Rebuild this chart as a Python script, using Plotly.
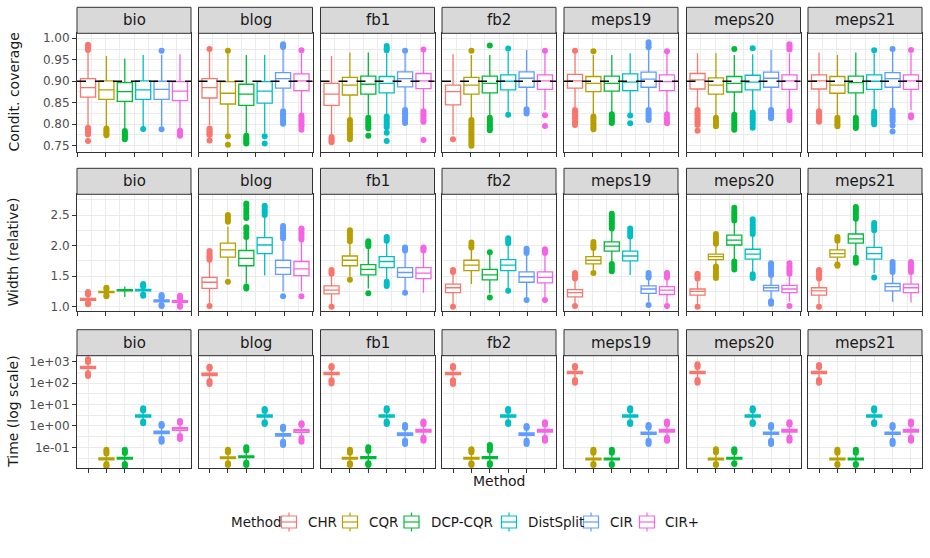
import plotly.graph_objects as go

# ---------------- data ----------------
DATASETS = ["bio", "blog", "fb1", "fb2", "meps19", "meps20", "meps21"]
METHODS = ["CHR", "CQR", "DCP-CQR", "DistSplit", "CIR", "CIR+"]
COLORS = ["#F8766D", "#B79F00", "#00BA38", "#00BFC4", "#619CFF", "#F564E3"]

# Conditional coverage (rows: datasets, cols: methods)
COV_LOW = [
    [0.798, 0.794, 0.786, 0.790, 0.795, 0.790],
    [0.798, 0.779, 0.775, 0.779, 0.837, 0.825],
    [0.775, 0.814, 0.818, 0.821, 0.837, 0.833],
    [0.775, 0.814, 0.819, 0.829, 0.841, 0.833],
    [0.837, 0.821, 0.825, 0.825, 0.835, 0.825],
    [0.837, 0.818, 0.825, 0.833, 0.837, 0.833],
    [0.833, 0.818, 0.818, 0.833, 0.837, 0.833],
]
COV_Q1 = [
    [0.863, 0.858, 0.853, 0.858, 0.858, 0.855],
    [0.861, 0.847, 0.844, 0.849, 0.884, 0.878],
    [0.844, 0.868, 0.870, 0.873, 0.887, 0.883],
    [0.845, 0.870, 0.873, 0.880, 0.886, 0.881],
    [0.884, 0.876, 0.877, 0.878, 0.886, 0.878],
    [0.882, 0.870, 0.875, 0.880, 0.886, 0.881],
    [0.882, 0.872, 0.873, 0.881, 0.886, 0.881],
]
COV_MED = [
    [0.885, 0.880, 0.876, 0.880, 0.881, 0.877],
    [0.885, 0.872, 0.870, 0.877, 0.906, 0.901],
    [0.870, 0.891, 0.893, 0.895, 0.906, 0.901],
    [0.876, 0.891, 0.895, 0.900, 0.907, 0.901],
    [0.901, 0.895, 0.895, 0.898, 0.905, 0.899],
    [0.903, 0.891, 0.895, 0.898, 0.907, 0.901],
    [0.901, 0.891, 0.897, 0.900, 0.906, 0.901],
]
COV_Q3 = [
    [0.906, 0.901, 0.897, 0.901, 0.900, 0.899],
    [0.906, 0.899, 0.893, 0.899, 0.920, 0.917],
    [0.895, 0.909, 0.912, 0.911, 0.922, 0.918],
    [0.891, 0.909, 0.912, 0.915, 0.922, 0.915],
    [0.916, 0.911, 0.912, 0.917, 0.921, 0.915],
    [0.918, 0.908, 0.911, 0.914, 0.921, 0.915],
    [0.915, 0.911, 0.912, 0.915, 0.920, 0.915],
]
COV_HIGH = [
    [0.969, 0.959, 0.953, 0.961, 0.961, 0.963],
    [0.969, 0.965, 0.961, 0.961, 0.977, 0.965],
    [0.959, 0.967, 0.967, 0.965, 0.965, 0.969],
    [0.963, 0.961, 0.961, 0.969, 0.973, 0.965],
    [0.965, 0.961, 0.961, 0.965, 0.977, 0.965],
    [0.965, 0.965, 0.961, 0.963, 0.973, 0.965],
    [0.967, 0.961, 0.967, 0.965, 0.969, 0.965],
]
COV_OUT = [
    [[0.973, 0.977, 0.981, 0.985, 0.792, 0.788, 0.784, 0.780, 0.776, 0.761],
     [0.790, 0.786, 0.782, 0.778, 0.774],
     [0.784, 0.780, 0.776, 0.772, 0.768, 0.765],
     [0.789],
     [0.971, 0.788],
     [0.785, 0.781, 0.777, 0.773]],
    [[0.975, 0.790, 0.786, 0.782, 0.778, 0.775, 0.762],
     [0.971, 0.772, 0.752],
     [0.773, 0.769, 0.765, 0.761, 0.757, 0.755],
     [0.772, 0.755],
     [0.980, 0.983, 0.986, 0.830, 0.825, 0.820, 0.815, 0.810, 0.805, 0.801],
     [0.972, 0.820, 0.815, 0.810, 0.805, 0.800, 0.795, 0.787]],
    [[0.770, 0.766, 0.762, 0.758],
     [0.810, 0.805, 0.800, 0.795, 0.790, 0.785, 0.780, 0.775, 0.770, 0.765],
     [0.815, 0.810, 0.805, 0.800, 0.795, 0.790, 0.773],
     [0.972, 0.977, 0.982, 0.818, 0.813, 0.808, 0.803, 0.798, 0.793, 0.780, 0.761],
     [0.971, 0.833, 0.828, 0.823, 0.818, 0.813, 0.808, 0.803],
     [0.974, 0.830, 0.825, 0.820, 0.815, 0.810, 0.806, 0.763]],
    [[0.765],
     [0.971, 0.810, 0.805, 0.800, 0.795, 0.790, 0.785, 0.780, 0.775, 0.770, 0.765, 0.760, 0.755, 0.750],
     [0.983, 0.815, 0.810, 0.805, 0.800, 0.795, 0.790, 0.786],
     [0.976, 0.822],
     [0.835, 0.830, 0.825],
     [0.971, 0.821, 0.796]],
    [[0.971, 0.833, 0.828, 0.823, 0.818, 0.813, 0.808, 0.803, 0.798],
     [0.970, 0.818, 0.813, 0.808, 0.803, 0.798, 0.793, 0.788],
     [0.823, 0.818, 0.813, 0.808, 0.803],
     [0.820, 0.802],
     [0.979, 0.985, 0.991, 0.833, 0.828, 0.823, 0.818, 0.813, 0.810],
     [0.970, 0.823, 0.815, 0.808, 0.802]],
    [[0.833, 0.828, 0.823, 0.818, 0.813, 0.808, 0.803, 0.798, 0.785],
     [0.815, 0.810, 0.805, 0.800, 0.795],
     [0.975, 0.822, 0.817, 0.812, 0.807, 0.802, 0.797, 0.792, 0.787],
     [0.977, 0.827, 0.822, 0.817, 0.812, 0.807, 0.800, 0.792],
     [0.833, 0.828, 0.823, 0.818, 0.814],
     [0.974, 0.978, 0.982, 0.986, 0.830, 0.825, 0.820, 0.815, 0.810]],
    [[0.830, 0.825, 0.820, 0.815, 0.810, 0.806],
     [0.815, 0.810, 0.805, 0.800, 0.795],
     [0.815, 0.810, 0.805, 0.800, 0.795, 0.791],
     [0.972, 0.829, 0.824, 0.819, 0.814, 0.809, 0.804, 0.800],
     [0.975, 0.832, 0.827, 0.822, 0.817, 0.812, 0.807, 0.797, 0.783],
     [0.973, 0.821, 0.816]],
]

# Relative width
WID_LOW = [
    [1.08, 1.20, 1.16, 1.22, 1.05, 1.04],
    [1.05, 1.49, 1.38, 1.51, 1.25, 1.25],
    [1.05, 1.49, 1.30, 1.44, 1.27, 1.23],
    [1.05, 1.37, 1.22, 1.30, 1.16, 1.16],
    [1.05, 1.60, 1.73, 1.52, 1.08, 1.05],
    [1.05, 1.68, 1.76, 1.55, 1.11, 1.08],
    [1.05, 1.71, 1.82, 1.55, 1.08, 1.07],
]
WID_Q1 = [
    [1.105, 1.23, 1.26, 1.26, 1.08, 1.07],
    [1.30, 1.81, 1.67, 1.87, 1.53, 1.51],
    [1.21, 1.67, 1.52, 1.64, 1.48, 1.46],
    [1.23, 1.59, 1.44, 1.59, 1.40, 1.39],
    [1.16, 1.70, 1.91, 1.75, 1.22, 1.20],
    [1.19, 1.77, 2.01, 1.78, 1.26, 1.23],
    [1.19, 1.81, 2.04, 1.78, 1.26, 1.23],
]
WID_MED = [
    [1.12, 1.24, 1.27, 1.27, 1.095, 1.085],
    [1.40, 1.93, 1.79, 2.01, 1.64, 1.62],
    [1.27, 1.76, 1.61, 1.74, 1.56, 1.55],
    [1.31, 1.68, 1.52, 1.68, 1.49, 1.48],
    [1.23, 1.76, 1.99, 1.83, 1.29, 1.27],
    [1.25, 1.82, 2.09, 1.86, 1.31, 1.29],
    [1.26, 1.87, 2.11, 1.87, 1.33, 1.31],
]
WID_Q3 = [
    [1.135, 1.25, 1.28, 1.285, 1.11, 1.10],
    [1.48, 2.04, 1.92, 2.13, 1.76, 1.74],
    [1.34, 1.83, 1.69, 1.82, 1.64, 1.64],
    [1.37, 1.76, 1.61, 1.77, 1.57, 1.57],
    [1.28, 1.82, 2.06, 1.91, 1.34, 1.33],
    [1.29, 1.86, 2.17, 1.94, 1.35, 1.35],
    [1.31, 1.93, 2.19, 1.97, 1.38, 1.37],
]
WID_HIGH = [
    [1.18, 1.28, 1.33, 1.31, 1.14, 1.13],
    [1.74, 2.31, 2.09, 2.47, 2.09, 2.06],
    [1.52, 2.04, 1.97, 2.06, 1.90, 1.90],
    [1.55, 1.95, 1.87, 2.01, 1.85, 1.85],
    [1.44, 1.93, 2.25, 2.12, 1.46, 1.46],
    [1.44, 2.01, 2.39, 2.17, 1.50, 1.52],
    [1.44, 2.06, 2.42, 2.23, 1.55, 1.55],
]
WID_OUT = [
    [[1.04, 1.06, 1.20, 1.22, 1.24],
     [1.17, 1.19, 1.29, 1.31],
     [],
     [1.18, 1.20, 1.33, 1.35, 1.37],
     [1.01, 1.03, 1.15, 1.17, 1.19],
     [1.00, 1.02, 1.14, 1.16, 1.18]],
    [[1.77, 1.80, 1.83, 1.87, 1.91, 1.01],
     [2.39, 2.43, 2.47, 2.50, 1.41],
     [2.14, 2.20, 2.26, 2.30, 2.45, 2.50, 2.55, 2.60, 2.65, 2.69, 1.33, 1.30],
     [2.50, 2.54, 2.58, 2.62, 2.65],
     [2.12, 2.16, 2.20, 2.24, 2.28, 2.32, 1.17],
     [2.10, 2.14, 2.18, 2.22, 2.26, 2.28, 1.17]],
    [[1.54, 1.57, 1.60, 1.00],
     [2.07, 2.12, 2.17, 2.22, 2.25, 1.44],
     [1.99, 2.02, 2.05, 2.07, 1.22],
     [2.08, 2.11, 2.14, 1.34, 1.37, 1.41],
     [1.92, 1.95, 1.97, 1.23],
     [1.92, 1.95, 1.97]],
    [[1.57, 1.60, 1.00],
     [1.97, 2.01, 2.05],
     [1.89, 1.15],
     [2.04, 2.08, 2.12, 1.26],
     [1.88, 1.91, 1.95, 1.11],
     [1.88, 1.91, 1.94, 1.11]],
    [[1.46, 1.49, 1.52, 1.55, 1.01],
     [1.96, 1.99, 2.02, 2.06, 1.55],
     [2.28, 2.32, 2.36, 2.40, 2.44, 2.48, 2.52, 1.70, 1.66, 1.62, 1.58],
     [2.15, 2.19, 2.23, 2.28],
     [1.48, 1.51, 1.55, 1.03],
     [1.48, 1.51, 1.55, 1.01]],
    [[1.46, 1.49, 1.52, 1.54, 1.00],
     [2.03, 2.07, 2.11, 2.15, 2.19, 1.66, 1.62, 1.58, 1.54, 1.50, 1.47],
     [2.41, 2.45, 2.49, 2.53, 2.57, 2.62, 1.74, 1.70, 1.66, 1.61],
     [2.19, 2.23, 2.27, 2.31, 2.35, 2.39, 2.43, 1.53, 1.50, 1.47],
     [1.52, 1.56, 1.60, 1.64, 1.68, 1.71, 1.09, 1.07, 1.05],
     [1.54, 1.58, 1.62, 1.66, 1.71, 1.01]],
    [[1.46, 1.50, 1.54, 1.58, 1.60, 1.00],
     [2.08, 2.11, 2.14, 1.69, 1.67],
     [2.44, 2.48, 2.52, 2.56, 2.60, 2.63, 1.80, 1.76, 1.72],
     [2.25, 2.29, 2.33, 2.37, 1.48],
     [1.57, 1.61, 1.65, 1.69, 1.73],
     [1.57, 1.61, 1.65, 1.69, 1.73]],
]

# Time in seconds (log scale)
TIME_LOW = [
    [330, 0.019, 0.020, 1.9, 0.30, 0.42],
    [150, 0.022, 0.024, 1.9, 0.22, 0.33],
    [165, 0.021, 0.022, 1.9, 0.24, 0.35],
    [165, 0.021, 0.022, 1.9, 0.24, 0.35],
    [180, 0.019, 0.019, 1.9, 0.26, 0.35],
    [180, 0.019, 0.021, 1.9, 0.26, 0.35],
    [180, 0.019, 0.019, 1.9, 0.26, 0.35],
]
TIME_Q1 = [
    [480, 0.026, 0.028, 2.6, 0.44, 0.62],
    [225, 0.030, 0.033, 2.6, 0.33, 0.50],
    [250, 0.028, 0.030, 2.6, 0.36, 0.52],
    [250, 0.028, 0.030, 2.6, 0.36, 0.52],
    [280, 0.026, 0.026, 2.6, 0.40, 0.52],
    [280, 0.026, 0.028, 2.6, 0.40, 0.52],
    [280, 0.026, 0.026, 2.6, 0.40, 0.52],
]
TIME_MED = [
    [540, 0.029, 0.031, 2.9, 0.50, 0.72],
    [257, 0.033, 0.037, 2.9, 0.38, 0.58],
    [285, 0.031, 0.033, 2.9, 0.41, 0.60],
    [285, 0.031, 0.033, 2.9, 0.41, 0.60],
    [318, 0.0285, 0.0285, 2.9, 0.45, 0.60],
    [318, 0.0285, 0.031, 2.9, 0.45, 0.60],
    [318, 0.0285, 0.0285, 2.9, 0.45, 0.60],
]
TIME_Q3 = [
    [610, 0.032, 0.034, 3.3, 0.57, 0.82],
    [290, 0.036, 0.040, 3.3, 0.43, 0.66],
    [320, 0.034, 0.037, 3.3, 0.47, 0.69],
    [320, 0.034, 0.037, 3.3, 0.47, 0.69],
    [350, 0.031, 0.031, 3.3, 0.51, 0.69],
    [350, 0.031, 0.034, 3.3, 0.51, 0.69],
    [350, 0.031, 0.031, 3.3, 0.51, 0.69],
]
TIME_HIGH = [
    [880, 0.045, 0.047, 4.5, 0.85, 1.20],
    [420, 0.050, 0.058, 4.4, 0.62, 0.95],
    [460, 0.047, 0.055, 4.5, 0.70, 1.05],
    [460, 0.047, 0.055, 4.4, 0.68, 1.00],
    [470, 0.045, 0.045, 4.5, 0.75, 1.05],
    [500, 0.047, 0.047, 4.5, 0.75, 1.00],
    [480, 0.045, 0.045, 4.5, 0.75, 1.05],
]
TIME_OUT = [
    [[977, 1122, 1288, 288, 251, 214],
     [0.052, 0.063, 0.076, 0.0166, 0.0145, 0.0126],
     [0.054, 0.064, 0.076, 0.0166, 0.0145, 0.0126],
     [5.2, 5.9, 6.6, 1.6, 1.32],
     [1.0, 1.1, 1.23, 0.25, 0.21, 0.184],
     [1.4, 1.55, 1.70, 0.34, 0.29, 0.245]],
    [[480, 530, 584, 125, 105, 91],
     [0.058, 0.067, 0.076, 0.018, 0.0165, 0.015],
     [0.070, 0.085, 0.10, 0.019, 0.017, 0.015],
     [5.0, 5.6, 6.2, 1.5, 1.35, 1.23],
     [0.72, 0.82, 0.92, 0.18, 0.15, 0.128],
     [1.1, 1.2, 1.32, 0.27, 0.22, 0.184]],
    [[520, 580, 630, 135, 115, 97],
     [0.056, 0.066, 0.076, 0.018, 0.0165, 0.015],
     [0.068, 0.084, 0.10, 0.018, 0.0165, 0.015],
     [5.2, 5.9, 6.6, 1.6, 1.4, 1.23],
     [0.82, 0.95, 1.10, 0.20, 0.17, 0.143],
     [1.2, 1.4, 1.59, 0.28, 0.24, 0.20]],
    [[520, 580, 630, 135, 110, 91],
     [0.058, 0.070, 0.081, 0.018, 0.0165, 0.015],
     [0.070, 0.090, 0.11, 0.128, 0.018, 0.0165, 0.015],
     [5.0, 5.6, 6.2, 1.5, 1.35, 1.23],
     [0.80, 0.90, 1.0, 0.20, 0.17, 0.143],
     [1.15, 1.3, 1.48, 0.28, 0.24, 0.20]],
    [[530, 580, 630, 140, 120, 105],
     [0.055, 0.065, 0.076, 0.0165, 0.015],
     [0.055, 0.065, 0.076, 0.0165, 0.015],
     [5.2, 5.9, 6.6, 1.5, 1.35, 1.23],
     [0.85, 0.97, 1.10, 0.20, 0.17, 0.143],
     [1.2, 1.4, 1.59, 0.28, 0.24, 0.20]],
    [[560, 650, 750, 140, 120, 105],
     [0.058, 0.070, 0.081, 0.0165, 0.015],
     [0.058, 0.070, 0.081, 0.018, 0.0166],
     [5.2, 5.9, 6.6, 1.5, 1.35, 1.23],
     [0.85, 0.97, 1.10, 0.20, 0.17, 0.143],
     [1.15, 1.3, 1.48, 0.28, 0.24, 0.20]],
    [[550, 620, 700, 140, 120, 105],
     [0.055, 0.065, 0.076, 0.0165, 0.015],
     [0.055, 0.065, 0.076, 0.0165, 0.015],
     [5.2, 5.9, 6.6, 1.5, 1.35, 1.23],
     [0.85, 0.97, 1.10, 0.20, 0.17, 0.143],
     [1.2, 1.4, 1.59, 0.28, 0.24, 0.20]],
]

ROW_TITLES = ["Condit. coverage", "Width (relative)", "Time (log scale)"]
COV_TICKS = [0.75, 0.80, 0.85, 0.90, 0.95, 1.00]
COV_TICKTEXT = ["0.75", "0.80", "0.85", "0.90", "0.95", "1.00"]
WID_TICKS = [1.0, 1.5, 2.0, 2.5]
WID_TICKTEXT = ["1.0", "1.5", "2.0", "2.5"]
TIME_TICKS = [0.1, 1, 10, 100, 1000]
TIME_TICKTEXT = ["1e-01", "1e+00", "1e+01", "1e+02", "1e+03"]
TARGET_COVERAGE = 0.90

# ---------------- layout geometry (pixels) ----------------
W, H = 930, 558
COL_LEFT = [77, 198.5, 320.5, 442, 564, 686.5, 808]
PANEL_W = 114
ROW_Y = [(33.3, 151.7), (194.3, 310.7), (355.7, 468.0)]
STRIP_H = 26
FONT = "DejaVu Sans"
GRID = "#EBEBEB"
BORDER = "#333333"
LEGEND_Y = 522
LEGEND_TITLE_X = 229
LEGEND_KEY_X = [281.5, 342.5, 404, 501.5, 583.5, 639.5]
LEGEND_TEXT_X = [306, 366.5, 428.5, 526, 607.5, 662.5]

STATS = [
    (COV_LOW, COV_Q1, COV_MED, COV_Q3, COV_HIGH, COV_OUT),
    (WID_LOW, WID_Q1, WID_MED, WID_Q3, WID_HIGH, WID_OUT),
    (TIME_LOW, TIME_Q1, TIME_MED, TIME_Q3, TIME_HIGH, TIME_OUT),
]


def px(x):
    return x / W


def py(y):
    return 1 - y / H


fig = go.Figure()
layout = {}
shapes = []
annotations = []

for r in range(3):
    low, q1, med, q3, high, out = STATS[r]
    for c in range(7):
        k = r * 7 + c + 1
        xname = "x" if k == 1 else f"x{k}"
        yname = "y" if k == 1 else f"y{k}"
        xkey = "xaxis" if k == 1 else f"xaxis{k}"
        ykey = "yaxis" if k == 1 else f"yaxis{k}"
        left = COL_LEFT[c]
        top, bot = ROW_Y[r]

        xa = dict(domain=[px(left), px(left + PANEL_W)], anchor=yname,
                  range=[0.4, 6.6], showline=True, linecolor=BORDER, linewidth=1,
                  mirror=True, ticks="outside", ticklen=4, tickcolor=BORDER,
                  tickwidth=1, showticklabels=False, zeroline=False,
                  showgrid=True, gridcolor=GRID, gridwidth=1, fixedrange=True,
                  automargin=False)
        if r < 2:
            xa["tickmode"] = "array"
            xa["tickvals"] = [0.4, 1.95, 3.5, 5.05, 6.6]
            xa["minor"] = dict(tickmode="array", tickvals=[1.175, 2.725, 4.275, 5.825],
                               showgrid=True, gridcolor=GRID, gridwidth=0.6, ticks="")
        else:
            xa["tickmode"] = "array"
            xa["tickvals"] = [1, 2, 3, 4, 5, 6]
        layout[xkey] = xa

        ya = dict(domain=[py(bot), py(top)], anchor=xname,
                  showline=True, linecolor=BORDER, linewidth=1, mirror=True,
                  zeroline=False, showgrid=True, gridcolor=GRID, gridwidth=1,
                  tickfont=dict(family=FONT, size=12, color="#4D4D4D"),
                  tickmode="array", fixedrange=True, automargin=False)
        if r == 0:
            ya.update(range=[0.736, 1.0116], tickvals=COV_TICKS, ticktext=COV_TICKTEXT,
                      minor=dict(tickmode="array",
                                 tickvals=[0.775, 0.825, 0.875, 0.925, 0.975],
                                 showgrid=True, gridcolor=GRID, gridwidth=0.6, ticks=""))
        elif r == 1:
            ya.update(range=[0.935, 2.839], tickvals=WID_TICKS, ticktext=WID_TICKTEXT,
                      minor=dict(tickmode="array", tickvals=[1.25, 1.75, 2.25, 2.75],
                                 showgrid=True, gridcolor=GRID, gridwidth=0.6, ticks=""))
        else:
            ya.update(type="log", range=[-1.967, 3.28], tickvals=TIME_TICKS,
                      ticktext=TIME_TICKTEXT,
                      minor=dict(tickmode="array",
                                 tickvals=[10 ** -1.5, 10 ** -0.5, 10 ** 0.5,
                                           10 ** 1.5, 10 ** 2.5],
                                 showgrid=True, gridcolor=GRID, gridwidth=0.6, ticks=""))
        if c == 0:
            ya.update(ticks="outside", ticklen=4, tickcolor=BORDER, tickwidth=1,
                      showticklabels=True)
        else:
            ya.update(ticks="", showticklabels=False)
        layout[ykey] = ya

        # facet strip
        shapes.append(dict(type="rect", xref="paper", yref="paper",
                           x0=px(left), x1=px(left + PANEL_W),
                           y0=py(top), y1=py(top - STRIP_H),
                           fillcolor="#D9D9D9", line=dict(color=BORDER, width=1),
                           layer="above"))
        annotations.append(dict(text=DATASETS[c], xref="paper", yref="paper",
                                x=px(left + PANEL_W / 2), y=py(top - STRIP_H / 2),
                                showarrow=False, xanchor="center", yanchor="middle",
                                font=dict(family=FONT, size=15, color="#1A1A1A")))

        if r == 0:
            shapes.append(dict(type="line", xref=f"{xname} domain", yref=yname,
                               x0=0, x1=1, y0=TARGET_COVERAGE, y1=TARGET_COVERAGE,
                               line=dict(color="black", width=1.3, dash="dash"),
                               layer="above"))

        for m in range(6):
            col = COLORS[m]
            fig.add_trace(go.Box(
                x=[m + 1], q1=[q1[c][m]], median=[med[c][m]], q3=[q3[c][m]],
                lowerfence=[low[c][m]], upperfence=[high[c][m]],
                xaxis=xname, yaxis=yname, width=0.82, whiskerwidth=0,
                line=dict(color=col, width=1.3), fillcolor="white",
                boxpoints=False, name=METHODS[m], showlegend=False,
                hoverinfo="skip"))
            pts = out[c][m]
            if pts:
                fig.add_trace(go.Scatter(
                    x=[m + 1] * len(pts), y=pts, mode="markers",
                    xaxis=xname, yaxis=yname,
                    marker=dict(color=col, size=6, line=dict(width=0)),
                    showlegend=False, hoverinfo="skip"))

    annotations.append(dict(text=ROW_TITLES[r], xref="paper", yref="paper",
                            x=px(13), y=py((ROW_Y[r][0] + ROW_Y[r][1]) / 2),
                            textangle=-90, showarrow=False,
                            xanchor="center", yanchor="middle",
                            font=dict(family=FONT, size=14, color="#1A1A1A")))

annotations.append(dict(text="Method", xref="paper", yref="paper",
                        x=px((COL_LEFT[0] + COL_LEFT[-1] + PANEL_W) / 2),
                        y=py(481), showarrow=False,
                        xanchor="center", yanchor="middle",
                        font=dict(family=FONT, size=14, color="#1A1A1A")))

# legend (drawn as keys + labels below the panels)
annotations.append(dict(text="Method", xref="paper", yref="paper",
                        x=px(LEGEND_TITLE_X), y=py(LEGEND_Y), showarrow=False,
                        xanchor="left", yanchor="middle",
                        font=dict(family=FONT, size=13.5, color="#1A1A1A")))
for m in range(6):
    kx = LEGEND_KEY_X[m]
    col = COLORS[m]
    cx = kx + 7.5
    shapes.append(dict(type="line", xref="paper", yref="paper",
                       x0=px(cx), x1=px(cx), y0=py(512.5), y1=py(531.5),
                       line=dict(color=col, width=1.2)))
    shapes.append(dict(type="rect", xref="paper", yref="paper",
                       x0=px(kx), x1=px(kx + 15), y0=py(528), y1=py(516),
                       fillcolor="white", line=dict(color=col, width=1.2)))
    shapes.append(dict(type="line", xref="paper", yref="paper",
                       x0=px(kx), x1=px(kx + 15), y0=py(522), y1=py(522),
                       line=dict(color=col, width=1.2)))
    annotations.append(dict(text=METHODS[m], xref="paper", yref="paper",
                            x=px(LEGEND_TEXT_X[m]), y=py(LEGEND_Y), showarrow=False,
                            xanchor="left", yanchor="middle",
                            font=dict(family=FONT, size=13.5, color="#1A1A1A")))

fig.update_layout(
    width=W, height=H,
    margin=dict(l=0, r=0, t=0, b=0, autoexpand=False),
    paper_bgcolor="white", plot_bgcolor="white",
    font=dict(family=FONT, color="#1A1A1A"),
    boxmode="overlay",
    showlegend=False,
    shapes=shapes,
    annotations=annotations,
    **layout,
)

fig.write_html("out.html", config={"displayModeBar": False},
               post_script="document.body.style.margin='0px';document.body.style.overflow='hidden';")
